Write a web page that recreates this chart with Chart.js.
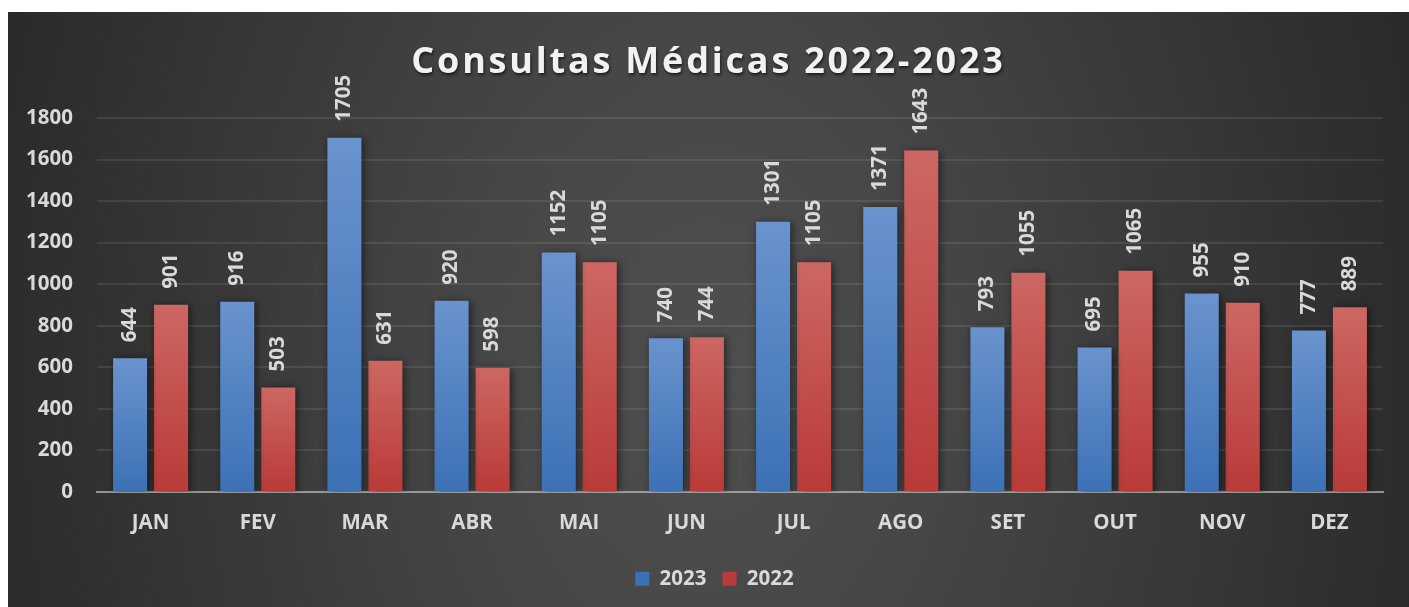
<!DOCTYPE html>
<html>
<head>
<meta charset="utf-8">
<script src="https://cdn.jsdelivr.net/npm/chart.js@4/dist/chart.umd.min.js"></script>
<style>
  html, body { margin: 0; padding: 0; background: #fff; }
  #wrap {
    position: absolute; left: 8px; top: 12px; width: 1401px; height: 595px;
    background: radial-gradient(ellipse 58% 200% at 50% 60%, #4f4f4f 0%, #464646 30%, #262626 100%);
  }
  #titulo {
    position: absolute; left: 0; right: 0; top: 26px; text-align: center;
    font: bold 36px 'Open Sans', 'DejaVu Sans', sans-serif; letter-spacing: 2.8px;
    color: #f2f2f2; text-shadow: 1px 2px 3px rgba(0,0,0,0.6); line-height: 44px;
  }
</style>
</head>
<body>
<div id="wrap">
  <canvas id="grafico"></canvas>
  <div id="titulo">Consultas Médicas 2022-2023</div>
</div>
<script>
// Dados das consultas
const meses = ["JAN", "FEV", "MAR", "ABR", "MAI", "JUN", "JUL", "AGO", "SET", "OUT", "NOV", "DEZ"];
const consultas2023 = [644, 916, 1705, 920, 1152, 740, 1301, 1371, 793, 695, 955, 777];
const consultas2022 = [901, 503, 631, 598, 1105, 744, 1105, 1643, 1055, 1065, 910, 889];
const ticksY = [0, 200, 400, 600, 800, 1000, 1200, 1400, 1600, 1800];

const corTexto = "#d9d9d9";
const fonte = "'Open Sans', 'DejaVu Sans', sans-serif";
const tamFonte = 20.5;

// gradiente por barra (claro em cima, escuro embaixo)
function gradiente(topo, base) {
  return function (context) {
    const chart = context.chart;
    const y = chart.scales.y;
    if (!chart.chartArea || !y || context.raw == null) return base;
    const yTopo = y.getPixelForValue(context.raw);
    const yBase = y.getPixelForValue(0);
    if (!isFinite(yTopo) || !isFinite(yBase) || yTopo === yBase) return base;
    const g = chart.ctx.createLinearGradient(0, yTopo, 0, yBase);
    g.addColorStop(0, topo);
    g.addColorStop(1, base);
    return g;
  };
}

// sombra das barras
const sombraBarras = {
  id: "sombraBarras",
  beforeDatasetsDraw(chart) {
    const ctx = chart.ctx;
    ctx.save();
    ctx.shadowColor = "rgba(0,0,0,0.55)";
    ctx.shadowBlur = 8;
    ctx.shadowOffsetX = 2;
    ctx.shadowOffsetY = 1;
  },
  afterDatasetsDraw(chart) {
    chart.ctx.restore();
  }
};

// rótulos verticais acima das barras
const rotulos = {
  id: "rotulos",
  afterDatasetsDraw(chart) {
    const ctx = chart.ctx;
    ctx.save();
    ctx.font = "bold " + tamFonte + "px " + fonte;
    ctx.fillStyle = corTexto;
    ctx.textAlign = "left";
    ctx.textBaseline = "middle";
    chart.data.datasets.forEach((ds, i) => {
      chart.getDatasetMeta(i).data.forEach((bar, j) => {
        ctx.save();
        ctx.translate(bar.x, bar.y - 16);
        ctx.rotate(-Math.PI / 2);
        ctx.fillText(String(ds.data[j]), 0, 0);
        ctx.restore();
      });
    });
    ctx.restore();
  }
};

// legenda um pouco à direita, como no original
const moveLegenda = {
  id: "moveLegenda",
  afterLayout(chart) {
    if (chart.legend) {
      chart.legend.left += 19;
      chart.legend.right += 19;
    }
  }
};

const ctx = document.getElementById("grafico").getContext("2d");
new Chart(ctx, {
  type: "bar",
  data: {
    labels: meses,
    datasets: [
      {
        label: "2023",
        data: consultas2023,
        backgroundColor: gradiente("#6a93ce", "#3c71b6"),
        borderWidth: 0
      },
      {
        label: "2022",
        data: consultas2022,
        backgroundColor: gradiente("#cd6762", "#b93a39"),
        borderWidth: 0
      }
    ]
  },
  options: {
    responsive: true,
    maintainAspectRatio: false,
    animation: false,
    categoryPercentage: 0.765,
    barPercentage: 0.83,
    layout: { padding: { left: 0, right: 26, top: 106, bottom: 8 } },
    scales: {
      x: {
        z: 1,
        grid: { display: false },
        border: { display: true, color: "rgba(200,200,200,0.6)", width: 2 },
        ticks: { color: corTexto, font: { family: fonte, size: tamFonte, weight: "bold" }, padding: 11 },
        afterFit(axis) {
          axis.height += 6;
        }
      },
      y: {
        min: 0,
        max: 1800,
        afterBuildTicks(axis) {
          axis.ticks = ticksY.map(v => ({ value: v }));
        },
        afterFit(axis) {
          axis.width = 89;
        },
        grid: { color: "rgba(255,255,255,0.09)", lineWidth: 2, drawTicks: false },
        border: { display: false },
        ticks: {
          color: corTexto,
          font: { family: fonte, size: tamFonte, weight: "bold" },
          padding: 24,
          callback: v => String(v)
        }
      }
    },
    plugins: {
      title: { display: false },
      legend: {
        position: "bottom",
        labels: {
          color: corTexto,
          boxWidth: 14,
          boxHeight: 14,
          padding: 16,
          font: { family: fonte, size: tamFonte, weight: "bold" }
        }
      },
      tooltip: { enabled: false }
    }
  },
  plugins: [sombraBarras, rotulos, moveLegenda]
});
</script>
</body>
</html>
